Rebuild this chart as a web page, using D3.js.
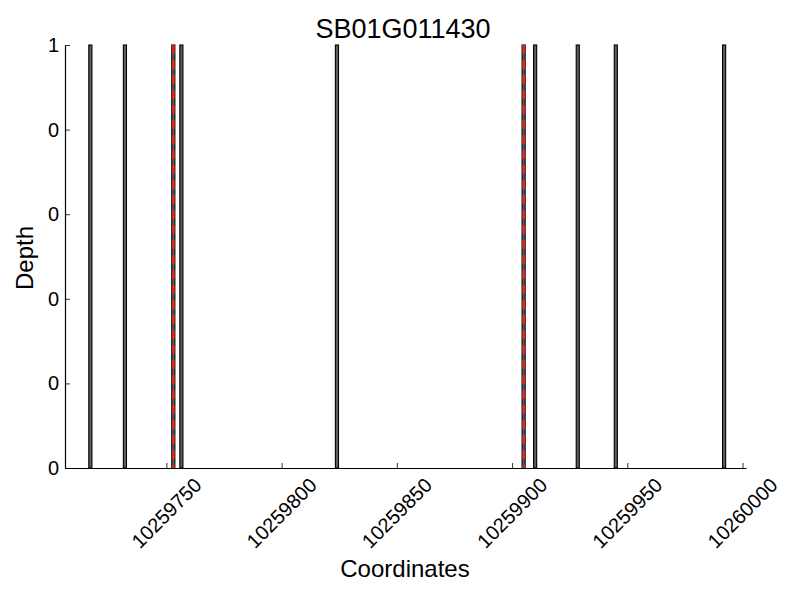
<!DOCTYPE html>
<html><head><meta charset="utf-8">
<script src="https://cdn.jsdelivr.net/npm/d3@7"></script>
<style>body{margin:0;background:#fff}text{font-family:"Liberation Sans",Arial,sans-serif;fill:#000}</style>
</head><body><svg id="c" width="800" height="600"></svg>
<script>
const title = "SB01G011430";
const positions = [10259717, 10259732, 10259753, 10259756.5, 10259824, 10259905, 10259910, 10259928.5, 10259945, 10259992];
const depths = [1, 1, 1, 1, 1, 1, 1, 1, 1, 1];
const markers = [10259753, 10259905];
const xTicks = [10259750, 10259800, 10259850, 10259900, 10259950, 10260000];
const yTicks = [0, 0.2, 0.4, 0.6, 0.8, 1];

const svg = d3.select("#c");
const L = 65, R = 746, T = 45, B = 468;
const x = d3.scaleLinear().domain([10259706, 10260001.5]).range([L, R]);
const y = d3.scaleLinear().domain([0, 1]).range([B, T]);

const bw = x(1) - x(0) + 0.8;
svg.append("g").selectAll("rect").data(positions).join("rect")
  .attr("x", (d) => x(d) - bw / 2)
  .attr("y", (d, i) => y(depths[i]))
  .attr("width", bw)
  .attr("height", (d, i) => y(0) - y(depths[i]))
  .attr("fill", "#606060").attr("stroke", "#000").attr("stroke-width", 1.1);

svg.append("g").selectAll("line").data(markers).join("line")
  .attr("x1", (d) => x(d)).attr("x2", (d) => x(d))
  .attr("y1", T).attr("y2", B)
  .attr("stroke", "#e8251e").attr("stroke-width", 2.6).attr("stroke-dasharray", "9,6");

// axes
const xa = svg.append("g").attr("transform", `translate(0,${B})`)
  .call(d3.axisBottom(x).tickValues(xTicks).tickSizeInner(-5).tickSizeOuter(0).tickFormat(""));
xa.select(".domain").attr("stroke-width", 1.2);
xa.selectAll(".tick line").attr("stroke-width", 0.8);
svg.append("g").selectAll("text").data(xTicks).join("text")
  .attr("transform", (d) => `translate(${x(d)},${B + 45}) rotate(-45)`)
  .attr("text-anchor", "middle").attr("dominant-baseline", "central")
  .style("font-size", "20px").text((d) => d3.format("d")(d));

const ya = svg.append("g").attr("transform", `translate(${L},0)`)
  .call(d3.axisLeft(y).tickValues(yTicks).tickSizeInner(-5).tickSizeOuter(0).tickFormat(""));
ya.select(".domain").attr("stroke-width", 1.2);
ya.selectAll(".tick line").attr("stroke-width", 0.8);
svg.append("g").selectAll("text").data(yTicks).join("text")
  .attr("x", L - 6).attr("y", (d) => y(d))
  .attr("text-anchor", "end").attr("dominant-baseline", "central")
  .style("font-size", "20px").text((d) => String(Math.trunc(d)));

svg.append("text").attr("x", 403).attr("y", 38).attr("text-anchor", "middle")
  .style("font-size", "27px").text(title);
svg.append("text").attr("x", 405).attr("y", 577).attr("text-anchor", "middle")
  .style("font-size", "24px").text("Coordinates");
svg.append("text").attr("transform", "translate(33,258) rotate(-90)").attr("text-anchor", "middle")
  .style("font-size", "24px").text("Depth");
</script></body></html>
